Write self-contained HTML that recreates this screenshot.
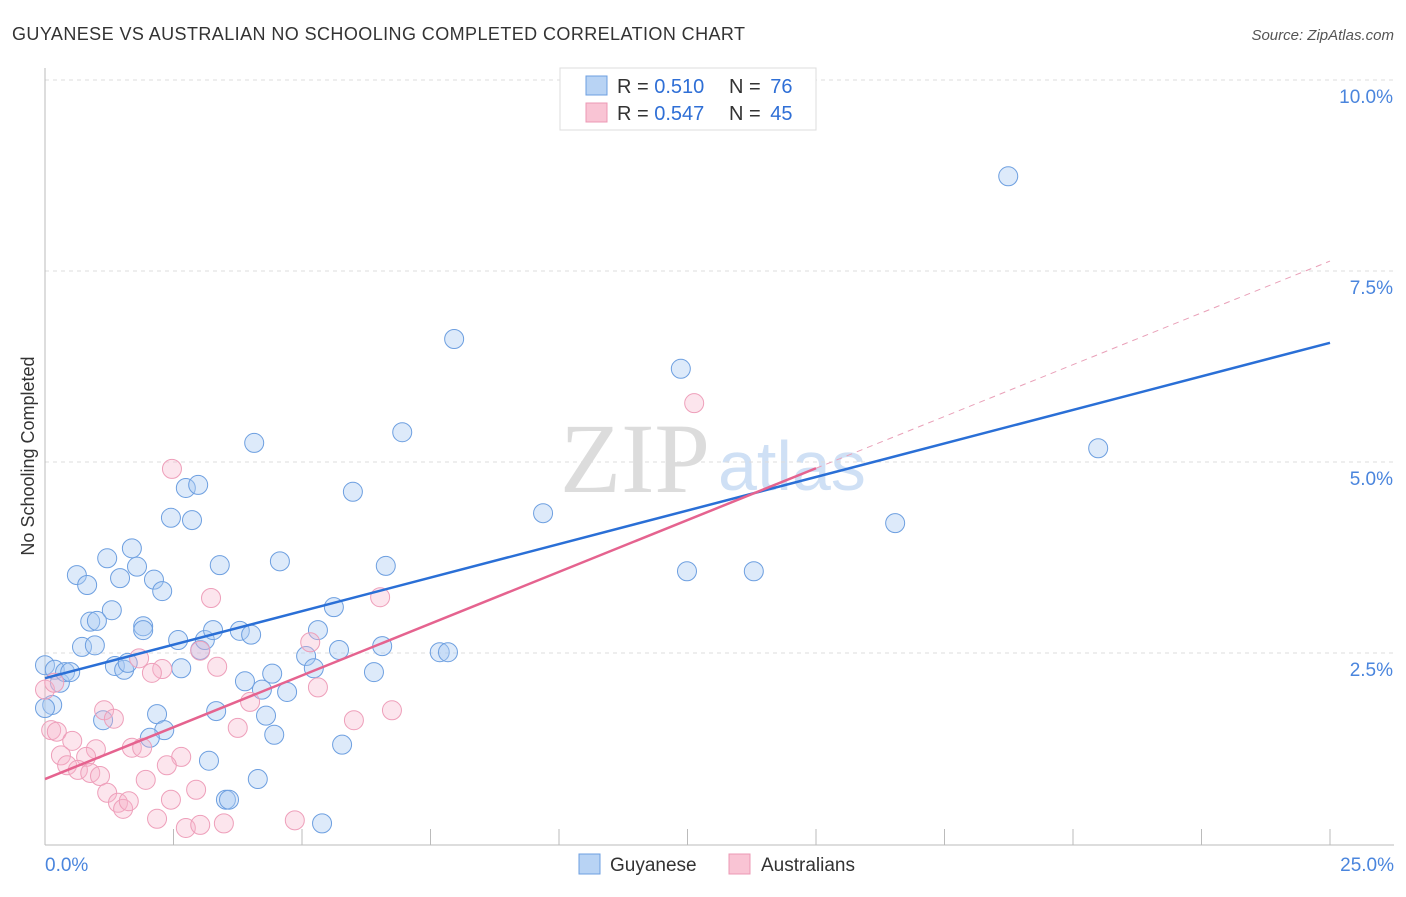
<!DOCTYPE html>
<html><head><meta charset="utf-8">
<style>
body{margin:0;background:#fff;font-family:"Liberation Sans",sans-serif;}
svg text{font-family:"Liberation Sans",sans-serif;}
svg text.serif{font-family:"Liberation Serif",serif;}
</style></head>
<body>
<svg id="chart" width="1406" height="892" xmlns="http://www.w3.org/2000/svg">
<text x="12" y="40" font-size="18" fill="#333" textLength="733">GUYANESE VS AUSTRALIAN NO SCHOOLING COMPLETED CORRELATION CHART</text>
<text x="1394" y="40" font-size="15" fill="#555" font-style="italic" text-anchor="end">Source: ZipAtlas.com</text>
<g>
<text class="serif" x="635" y="492" font-size="100" fill="#dcdcdc" text-anchor="middle">ZIP</text>
<text x="718" y="490" font-size="70" fill="#cfe0f5">atlas</text>
</g>
<g id="grid"></g>
<g id="axes"></g>
<g id="marks"></g>
<g>
<rect x="560" y="68" width="256" height="62" fill="#fff" stroke="#ddd"/>
<rect x="586" y="76" width="21" height="19" fill="#b8d3f4" stroke="#6d9fe0"/>
<rect x="586" y="103" width="21" height="19" fill="#f9c4d4" stroke="#ec98b4"/>
<text x="617" y="93" font-size="20" fill="#333">R = <tspan fill="#2f6fd6">0.510</tspan></text>
<text x="729" y="93" font-size="20" fill="#333">N = <tspan fill="#2f6fd6" dx="4">76</tspan></text>
<text x="617" y="120" font-size="20" fill="#333">R = <tspan fill="#2f6fd6">0.547</tspan></text>
<text x="729" y="120" font-size="20" fill="#333">N = <tspan fill="#2f6fd6" dx="4">45</tspan></text>
</g>
<g>
<rect x="579" y="854" width="21" height="20" fill="#b8d3f4" stroke="#6d9fe0"/>
<text x="610" y="871" font-size="19" fill="#333">Guyanese</text>
<rect x="729" y="854" width="21" height="20" fill="#f9c4d4" stroke="#ec98b4"/>
<text x="761" y="871" font-size="19" fill="#333">Australians</text>
</g>
<text transform="translate(34,456) rotate(-90)" font-size="18" fill="#333" text-anchor="middle">No Schooling Completed</text>
</svg>
<script>
const yTicks=[2.5,5,7.5,10];
const yTickLabels=["2.5%","5.0%","7.5%","10.0%"];
const xTickVals=[0,2.5,5,7.5,10,12.5,15,17.5,20,22.5,25];
const xEndLabels=["0.0%","25.0%"];
const guyX=[0,0.19,0.29,0.39,0.49,0.14,0.62,0.82,1.21,1.30,1.46,1.69,1.79,2.12,2.28,0.88,1.01,0.72,0.97,1.36,1.54,1.61,1.91,1.91,2.45,2.74,2.98,2.86,2.59,2.65,1.13,2.18,2.32,2.04,3.19,3.02,3.11,3.27,3.40,3.33,3.52,3.58,3.89,3.79,4.01,4.22,4.42,4.71,4.30,4.46,4.14,4.07,4.57,5.08,5.23,5.31,5.62,5.72,5.78,5.39,5.99,6.63,6.56,6.40,6.95,7.68,7.84,7.96,9.69,12.37,12.49,13.79,16.54,18.74,20.49,0.0];
const guyY=[2.34,2.28,2.11,2.25,2.25,1.82,3.52,3.39,3.74,3.06,3.48,3.87,3.63,3.46,3.31,2.91,2.92,2.58,2.60,2.33,2.28,2.37,2.85,2.80,4.27,4.66,4.70,4.24,2.67,2.30,1.62,1.70,1.49,1.39,1.09,2.54,2.67,2.80,3.65,1.74,0.58,0.58,2.13,2.79,2.74,2.02,2.23,1.99,1.68,1.43,0.85,5.25,3.70,2.46,2.30,2.80,3.10,2.54,1.30,0.27,4.61,3.64,2.59,2.25,5.39,2.51,2.51,6.61,4.33,6.22,3.57,3.57,4.20,8.74,5.18,1.78];
const ausX=[2.47,3.23,6.52,12.63,5.16,3.02,3.35,2.28,2.08,1.83,5.31,6.75,6.01,3.99,3.75,1.15,1.34,0.12,0.23,0.53,0.99,0.31,0.80,0.43,0.64,0.88,1.07,1.69,1.89,2.65,2.37,1.96,1.21,1.42,1.52,1.63,2.45,2.94,2.18,2.74,3.02,3.48,4.86,0,0.18];
const ausY=[4.91,3.22,3.23,5.77,2.64,2.53,2.32,2.29,2.24,2.43,2.05,1.75,1.62,1.86,1.52,1.75,1.64,1.49,1.47,1.35,1.24,1.16,1.14,1.03,0.97,0.93,0.89,1.26,1.26,1.14,1.03,0.84,0.67,0.54,0.46,0.56,0.58,0.71,0.33,0.21,0.25,0.27,0.31,2.02,2.11];
const guyLine=[2.17,6.56];
const ausLine=[0.85,7.63];
const ausSolidEnd=15;

const NS="http://www.w3.org/2000/svg";
const X=v=>45+v/25*1285;
const Y=v=>844-v*76.4;
function mk(tag,attrs,parent){const e=document.createElementNS(NS,tag);for(const k in attrs)e.setAttribute(k,attrs[k]);document.getElementById(parent).appendChild(e);return e;}
yTicks.forEach((t,i)=>{
 const g=mk('line',{x1:45,x2:1394,y1:Y(t),y2:Y(t),stroke:'#ddd','stroke-dasharray':'4,4'},'grid');
 
 
 const l=mk('text',{x:1393,y:Y(t)+23,'font-size':19,fill:'#4a85dd','text-anchor':'end'},'axes');
 l.textContent=yTickLabels[i];
 
 
});
const ya=mk('line',{x1:45,x2:45,y1:68,y2:845,stroke:'#bbb'},'axes');


const xa=mk('line',{x1:45,x2:1394,y1:845,y2:845,stroke:'#bbb'},'axes');


xTickVals.forEach(v=>{const t=mk('line',{x1:X(v),x2:X(v),y1:829,y2:845,stroke:'#bbb'},'axes');
 
 });
[[0,'start',45],[25,'end',1394]].forEach((a,i)=>{const t=mk('text',{x:a[2],y:871,'font-size':19,fill:'#4a85dd','text-anchor':a[1]},'axes');t.textContent=xEndLabels[i];
 
 });
guyX.forEach((x,i)=>{const c=mk('circle',{cx:X(x),cy:Y(guyY[i]),r:9.5,fill:'rgba(170,202,242,0.4)',stroke:'#6d9fe0','stroke-width':1},'marks');
 
 });
ausX.forEach((x,i)=>{const c=mk('circle',{cx:X(x),cy:Y(ausY[i]),r:9.5,fill:'rgba(247,180,202,0.35)',stroke:'#ee9fba','stroke-width':1},'marks');
 
 });
const ay=v=>ausLine[0]+(ausLine[1]-ausLine[0])*v/25;
const d=mk('line',{x1:X(ausSolidEnd),y1:Y(ay(ausSolidEnd)),x2:X(25),y2:Y(ausLine[1]),stroke:'#e9a0b8','stroke-dasharray':'6,5','stroke-width':1},'marks');


const bl=mk('line',{x1:X(0),y1:Y(guyLine[0]),x2:X(25),y2:Y(guyLine[1]),stroke:'#2a6fd6','stroke-width':2.5},'marks');


const pl=mk('line',{x1:X(0),y1:Y(ausLine[0]),x2:X(ausSolidEnd),y2:Y(ay(ausSolidEnd)),stroke:'#e5638f','stroke-width':2.5},'marks');


</script>
</body></html>
